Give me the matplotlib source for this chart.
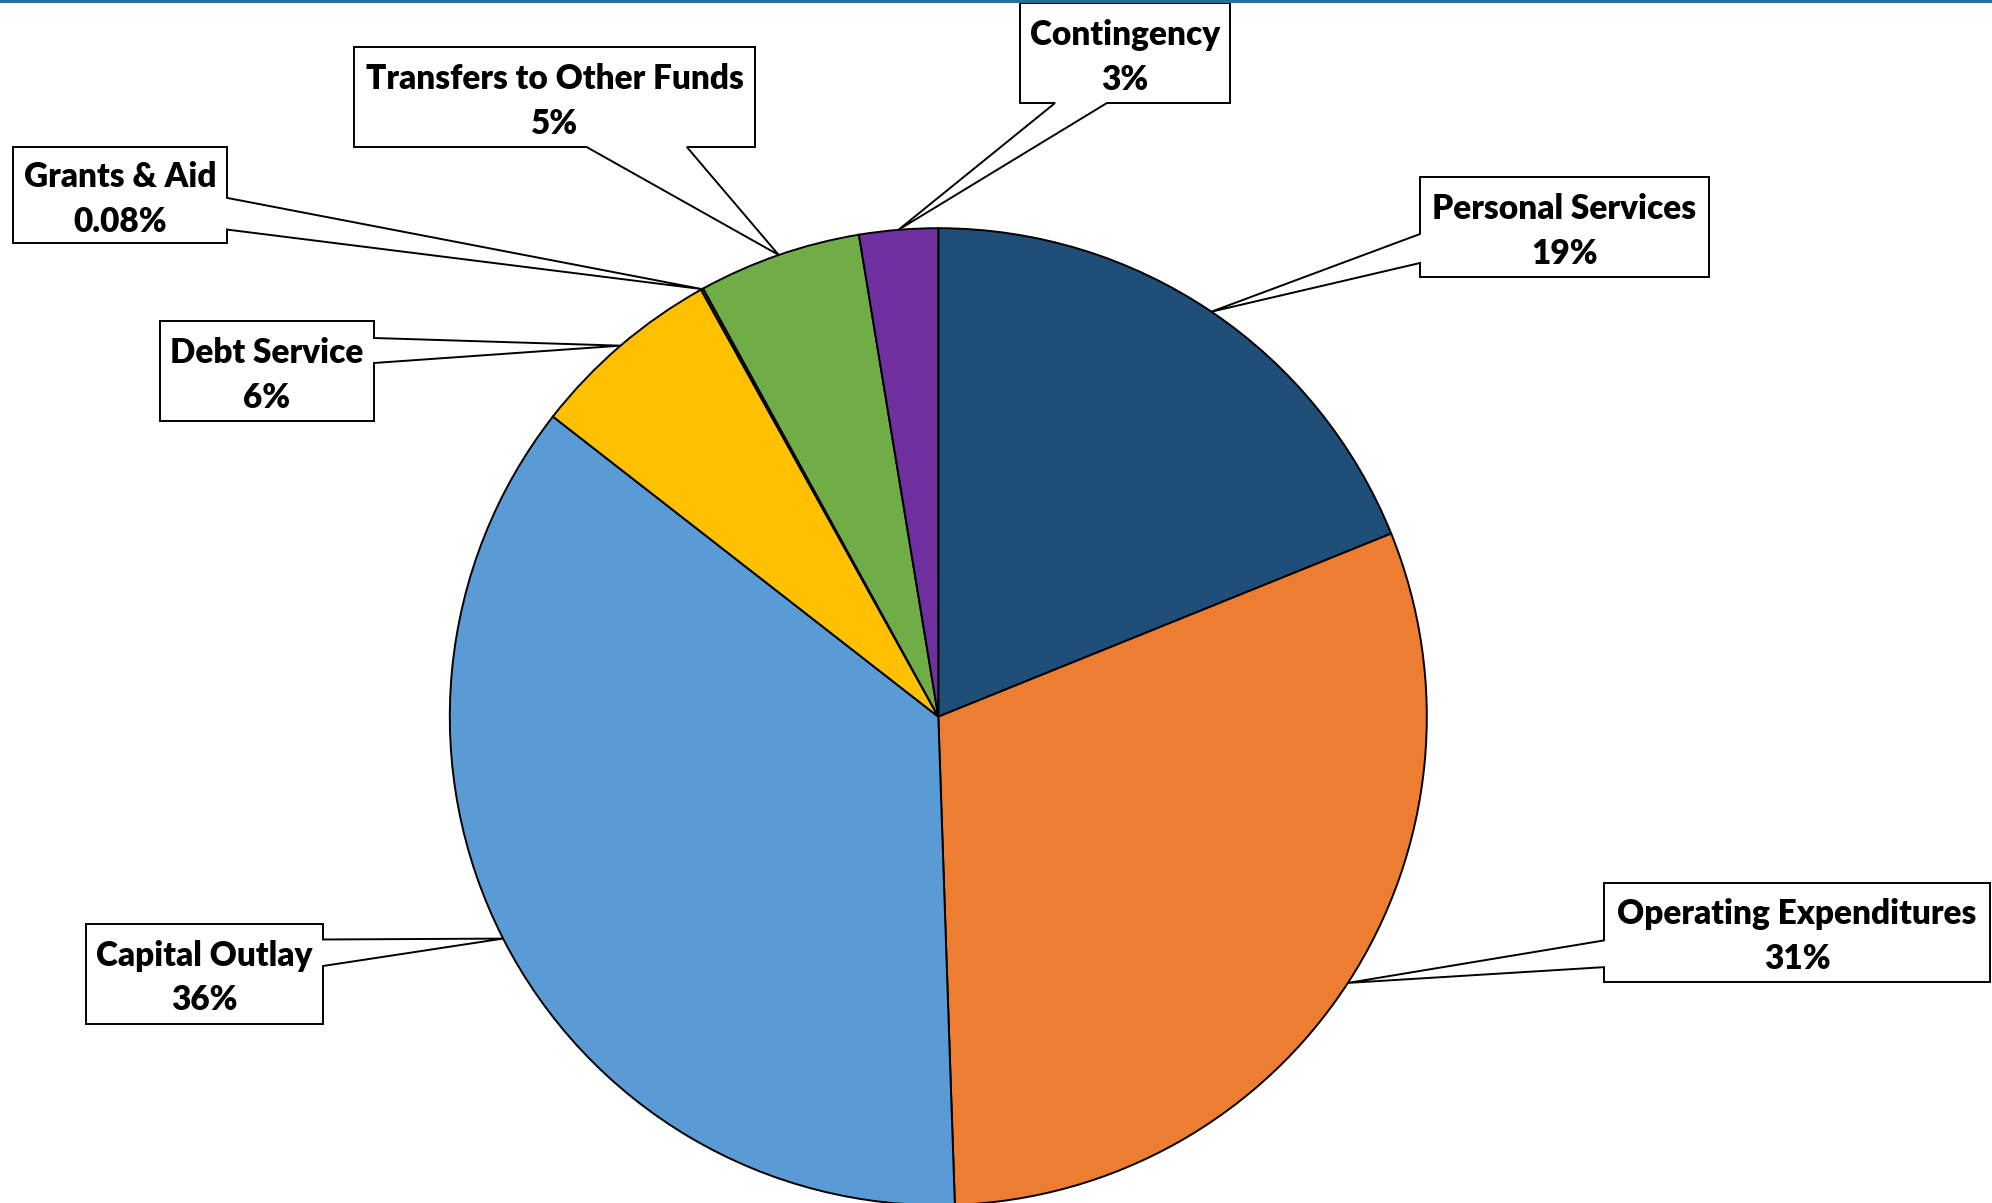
import math
import matplotlib
matplotlib.use("Agg")
import matplotlib.pyplot as plt
from matplotlib.patches import Polygon, Rectangle

# budget shares by category, in percent
categories = ["Personal Services", "Operating Expenditures", "Capital Outlay",
              "Debt Service", "Grants & Aid", "Transfers to Other Funds", "Contingency"]
shares = [18.9, 30.6, 36.1, 6.4, 0.08, 5.4, 2.6]
colors = ["#1F4E79", "#ED7D31", "#5B9BD5", "#FFC000", "#4472C4", "#70AD47", "#7030A0"]

W, H = 1992, 1203  # canvas size in pixels (dpi 100)

# callout boxes in pixels from the top-left corner: left, top, right, bottom
boxes = [(1420, 177, 1709, 277), (1604, 883, 1990, 982), (86, 924, 323, 1024),
         (160, 321, 374, 421), (13, 147, 227, 243), (354, 47, 755, 147),
         (1020, 3, 1230, 103)]
# edge the pointer leaves from and where it sits along that edge (0..1)
pointer_side = ["left", "left", "right", "right", "right", "bottom", "bottom"]
pointer_span = [(0.57, 0.86), (0.58, 0.85), (0.155, 0.42), (0.17, 0.42),
                (0.53, 0.86), (0.58, 0.83), (0.167, 0.414)]

FONT = ["Lato", "DejaVu Sans"]
FS = 24


def pct_text(p):
    return f"{p:.2f}%" if p < 1 else f"{p:.0f}%"


def callout_shape(box, side, span, tip):
    x0, y0, x1, y1 = box
    a, b = span
    if side == "left":
        ya, yb = y0 + a * (y1 - y0), y0 + b * (y1 - y0)
        return [(x0, y0), (x1, y0), (x1, y1), (x0, y1), (x0, yb), tip, (x0, ya)]
    if side == "right":
        ya, yb = y0 + a * (y1 - y0), y0 + b * (y1 - y0)
        return [(x0, y0), (x1, y0), (x1, ya), tip, (x1, yb), (x1, y1), (x0, y1)]
    xa, xb = x0 + a * (x1 - x0), x0 + b * (x1 - x0)
    return [(x0, y0), (x1, y0), (x1, y1), (xb, y1), tip, (xa, y1), (x0, y1)]


fig = plt.figure(figsize=(W / 100, H / 100), dpi=100)
ax = fig.add_axes([0, 0, 1, 1])

cx, cy, r = 938.3, 716.7, 488.5
# y axis runs downward, so startangle 270 is the top and counterclock turns clockwise on screen
wedges, _ = ax.pie(shares, colors=colors, startangle=270, counterclock=True,
                   center=(cx, cy), radius=r,
                   wedgeprops=dict(edgecolor="black", linewidth=1.4))
ax.set_xlim(0, W)
ax.set_ylim(H, 0)
ax.axis("off")

total = sum(shares)
cap = 0.72 * FS * 100 / 72  # cap height in pixels
for i, w in enumerate(wedges):
    ang = math.radians((w.theta1 + w.theta2) / 2)
    tip = (w.center[0] + w.r * math.cos(ang), w.center[1] + w.r * math.sin(ang))
    poly = Polygon(callout_shape(boxes[i], pointer_side[i], pointer_span[i], tip),
                   closed=True, facecolor="white", edgecolor="black",
                   linewidth=1.4, zorder=5)
    ax.add_patch(poly)
    x0, y0, x1, y1 = boxes[i]
    bx, by = (x0 + x1) / 2, (y0 + y1) / 2
    ax.text(bx, by - 20 + cap / 2, categories[i], ha="center", va="baseline",
            fontsize=FS, fontweight="heavy", family=FONT, zorder=6)
    ax.text(bx, by + 24.5 + cap / 2, pct_text(shares[i] / total * 100), ha="center",
            va="baseline", fontsize=FS, fontweight="heavy", family=FONT, zorder=6)

# thin rule along the top edge
ax.add_patch(Rectangle((0, 0), W, 3, facecolor="#236FA0", edgecolor="none", zorder=7))

fig.savefig("out.png", dpi=100)
